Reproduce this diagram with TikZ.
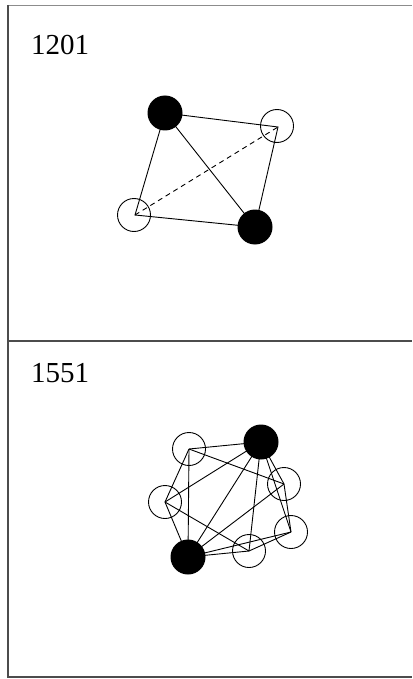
\documentclass[tikz,border=0pt]{standalone}
\usepackage{fontspec}
\setmainfont{Liberation Serif}
\begin{document}
\begin{tikzpicture}[x=1pt,y=-1pt,
  frame/.style={draw=black!70,line width=1.4pt},
  faintframe/.style={draw=black!45,line width=0.8pt},
  edge/.style={draw=black,line width=0.9pt},
  dedge/.style={edge,dash pattern=on 5pt off 4pt},
  openv/.style={circle,draw=black,line width=0.9pt,minimum size=33pt,inner sep=0pt},
  fullv/.style={circle,fill=black,minimum size=35pt,inner sep=0pt},
  lbl/.style={anchor=base west,inner sep=0pt,font=\fontsize{29}{32}\selectfont}]
\useasboundingbox (0,0) rectangle (412,679);
% frame
\coordinate (tl) at (8,5);
\coordinate (tr) at (412,5);
\coordinate (ml) at (8,341);
\coordinate (mr) at (412,341);
\coordinate (bl) at (8,677);
\coordinate (br) at (412,677);
\draw[faintframe] (tr) -- (tl);
\draw[frame] (tl) -- (bl) -- (br);
\draw[frame] (ml) -- (mr);
% labels
\node[lbl] (t1) at (31,55) {1201};
\node[lbl] (t2) at (31,382) {1551};
% top panel
\coordinate (A) at (165,113);
\coordinate (B) at (278,127);
\coordinate (C) at (135,215);
\coordinate (D) at (255,227);
\draw[edge] (A) -- (B) -- (D) -- (C) -- (A) -- (D);
\draw[dedge] (C) -- (B);
\node[fullv] (nA) at (A) {};
\node[fullv] (nD) at (D) {};
\node[openv] (nB) at (277,126) {};
\node[openv] (nC) at (134,215) {};
% bottom panel
\coordinate (P1) at (189,449);
\coordinate (Q) at (261,442);
\coordinate (P2) at (165,502);
\coordinate (R) at (188,557);
\coordinate (P3) at (249,551);
\coordinate (P4) at (291,532);
\coordinate (P5) at (284,484);
\draw[edge] (P1) -- (Q);
\draw[edge] (P1) -- (R);
\draw[edge] (P1) -- (P5);
\draw[edge] (P1) -- (P2);
\draw[edge] (P2) -- (Q);
\draw[edge] (P2) -- (R);
\draw[edge] (P2) -- (P3);
\draw[edge] (Q) -- (R);
\draw[edge] (Q) -- (P3);
\draw[edge] (Q) -- (P4);
\draw[edge] (Q) -- (P5);
\draw[edge] (R) -- (P5);
\draw[edge] (R) -- (P4);
\draw[edge] (R) -- (P3);
\draw[edge] (P3) -- (P4);
\draw[edge] (P5) -- (P4);
\node[openv] (n1) at (P1) {};
\node[openv] (n2) at (P2) {};
\node[openv] (n3) at (P3) {};
\node[openv] (n4) at (P4) {};
\node[openv] (n5) at (P5) {};
\node[fullv] (nQ) at (Q) {};
\node[fullv] (nR) at (R) {};
\end{tikzpicture}
\end{document}
